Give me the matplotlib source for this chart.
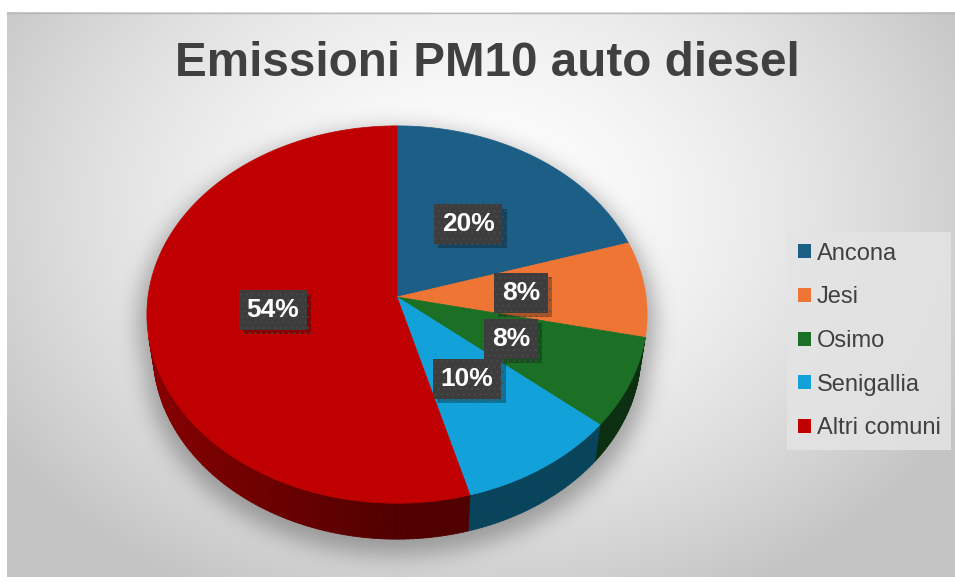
"""
Emissioni PM10 auto diesel - 3D pie in the Excel style, drawn by hand
with a simple perspective projection of a flat cylinder.
"""
import numpy as np
import matplotlib
matplotlib.use("Agg")
import matplotlib.pyplot as plt
import matplotlib.patheffects as pe
from matplotlib.patches import Polygon, Patch
from matplotlib.collections import PolyCollection
from matplotlib.path import Path

plt.rcParams["font.family"] = ["Liberation Sans", "DejaVu Sans"]
plt.rcParams["hatch.linewidth"] = 0.5

# data
categories = ["Ancona", "Jesi", "Osimo", "Senigallia", "Altri comuni"]
values = [20.2, 8.2, 7.7, 9.6, 54.3]
colors = ["#1c5e86", "#ee7534", "#1b7026", "#12a1d9", "#c00000"]
title = "Emissioni PM10 auto diesel"

# canvas / view settings (pixels)
W, H = 955, 583
CX, CY = 397, 297          # apex of the pie on screen
SIN_E, COS_E = 0.751, 0.660  # elevation of the camera
DIST = 7.1                  # camera distance, in radii
FOC = 1768                  # focal length, pixels
DEPTH = 0.235               # thickness of the pie, in radii
LABEL_R = 0.5


def project(t, r=1.0, z=0.0):
    x = r * np.cos(t)
    y = r * np.sin(t)
    yc = y * SIN_E + z * COS_E
    zc = DIST + y * COS_E - z * SIN_E
    return CX + FOC * x / zc, CY - FOC * yc / zc


def shade(hexcol, f):
    rgb = np.array(matplotlib.colors.to_rgb(hexcol))
    return tuple(np.clip(rgb * f, 0, 1))


def box_blur(a, r, n=3):
    for _ in range(n):
        for axis in (0, 1):
            c = np.cumsum(np.pad(a, [(r + 1, r) if i == axis else (0, 0) for i in range(2)],
                                 mode="edge"), axis=axis)
            if axis == 0:
                a = (c[2 * r + 1:] - c[:-2 * r - 1]) / (2 * r + 1)
            else:
                a = (c[:, 2 * r + 1:] - c[:, :-2 * r - 1]) / (2 * r + 1)
    return a


fig = plt.figure(figsize=(W / 100, H / 100), dpi=100)
fig.patch.set_facecolor("white")
ax = fig.add_axes([0, 0, 1, 1])
ax.set_xlim(0, W)
ax.set_ylim(H, 0)
ax.axis("off")

# chart-area background: radial grey gradient
x0, x1, y0, y1 = 7, 955, 12, 577
gx, gy = np.meshgrid(np.arange(x0, x1) + 0.5, np.arange(y0, y1) + 0.5)
d = np.sqrt(((gx - 470) / 560) ** 2 + ((gy - 210) / 430) ** 2)
d = np.clip(d, 0, 1) ** 1.6
lo, hi = np.array([0.77, 0.77, 0.77]), np.array([1.0, 1.0, 1.0])
bg = hi[None, None, :] * (1 - d[..., None]) + lo[None, None, :] * d[..., None]
ax.imshow(bg, extent=(x0, x1, y1, y0), zorder=0, interpolation="bilinear")
ax.plot([x0, x1], [y0 + 0.5, y0 + 0.5], color="#b8b8b8", lw=1, zorder=1)

# slice angles: start at 12 o'clock, clockwise
frac = np.array(values) / np.sum(values)
bounds = np.pi / 2 - 2 * np.pi * np.concatenate([[0], np.cumsum(frac)])

# soft shadow under the pie
tt = np.linspace(0, 2 * np.pi, 361)
top_path = Path(np.column_stack(project(tt, r=1.03)))
bot_path = Path(np.column_stack(project(tt, r=1.03, z=-DEPTH)))
px, py = np.meshgrid(np.arange(W) + 0.5, np.arange(H) + 0.5)
pts = np.column_stack([px.ravel(), py.ravel() - 9])
mask = (top_path.contains_points(pts) | bot_path.contains_points(pts)).reshape(H, W)
sh = box_blur(mask.astype(float), 10, 3)
shadow = np.zeros((H, W, 4))
shadow[..., :3] = 0.4
shadow[..., 3] = sh * 0.55
ax.imshow(shadow, extent=(0, W, H, 0), zorder=2, interpolation="bilinear")

# visible side of the cylinder
t_vis = np.arcsin(-1 / (DIST * COS_E))        # about -12 deg
vis_lo, vis_hi = -np.pi - t_vis, t_vis
quads, qcols = [], []
for i, col in enumerate(colors):
    a0, a1 = bounds[i], bounds[i + 1]
    lo_t, hi_t = max(a1, vis_lo), min(a0, vis_hi)
    if hi_t <= lo_t:
        continue
    ts = np.linspace(lo_t, hi_t, max(3, int(np.degrees(hi_t - lo_t)) + 1))
    for ta, tb in zip(ts[:-1], ts[1:]):
        xa, ya = project(ta)
        xb, yb = project(tb)
        xc, yc = project(tb, z=-DEPTH)
        xd, yd = project(ta, z=-DEPTH)
        quads.append([(xa, ya), (xb, yb), (xc, yc), (xd, yd)])
        f = 0.42 + 0.3 * max(0.0, -np.cos(0.5 * (ta + tb)))
        qcols.append(shade(col, f))
ax.add_collection(PolyCollection(quads, facecolors=qcols, edgecolors=qcols,
                                 linewidths=0.6, zorder=3))

# top faces
for i, col in enumerate(colors):
    ts = np.linspace(bounds[i], bounds[i + 1], 200)
    ex, ey = project(ts)
    poly = np.column_stack([np.r_[CX, ex], np.r_[CY, ey]])
    ax.add_patch(Polygon(poly, closed=True, fc=col, ec=col, lw=0.5, zorder=4))

# data labels (dark boxes with a dotted fill and a drop shadow)
for i, v in enumerate(values):
    tm = 0.5 * (bounds[i] + bounds[i + 1])
    lx, ly = project(tm, r=LABEL_R)
    t = ax.text(lx, ly, f"{v:.0f}%", ha="center", va="center", fontsize=19,
                fontweight="bold", color="white", zorder=6,
                bbox=dict(boxstyle="square,pad=0.3", fc="#3d3d3d", ec="#4c4c4c",
                          lw=0, hatch="..."))
    t.get_bbox_patch().set_path_effects(
        [pe.SimplePatchShadow(offset=(3, -3), shadow_rgbFace="black", alpha=0.28),
         pe.Normal()])

# title
ax.text(487, 63, title, ha="center", va="center", fontsize=34.3,
        fontweight="bold", color="#404040", zorder=6)

# legend
handles = [Patch(facecolor=c, edgecolor="none", label=n) for c, n in zip(colors, categories)]
leg = ax.legend(handles=handles, loc="center left", bbox_to_anchor=(787 / W, 1 - 341 / H),
                fontsize=17, frameon=True, fancybox=False, handlelength=0.55,
                handleheight=0.55, handletextpad=0.25, labelspacing=0.92,
                borderpad=0.45, borderaxespad=0)
leg.get_frame().set_facecolor("#e4e4e4")
leg.get_frame().set_edgecolor("none")
leg.get_frame().set_alpha(0.85)
for t in leg.get_texts():
    t.set_color("#404040")
leg.set_zorder(7)

fig.savefig("out.png", dpi=100)
